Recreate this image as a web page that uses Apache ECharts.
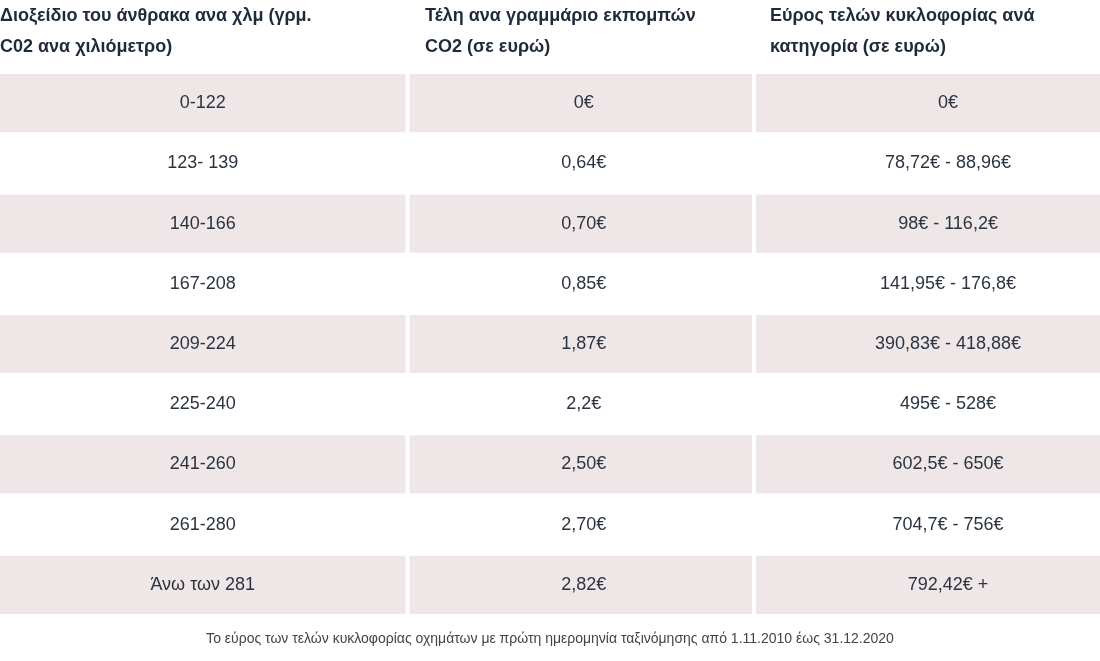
<!DOCTYPE html>
<html><head><meta charset="utf-8">
<script src="https://cdn.jsdelivr.net/npm/echarts@6/dist/echarts.min.js"></script>
<style>html,body{margin:0;padding:0;background:#fff}#c{width:1100px;height:661px}</style>
</head><body><div id="c"></div>
<script>
const headers = [
  "Διοξείδιο του άνθρακα ανα χλμ (γρμ.\nC02 ανα χιλιόμετρο)",
  "Τέλη ανα γραμμάριο εκπομπών\nCO2 (σε ευρώ)",
  "Εύρος τελών κυκλοφορίας ανά\nκατηγορία (σε ευρώ)"
];
const categories = ["0-122","123- 139","140-166","167-208","209-224","225-240","241-260","261-280","Άνω των 281"];
const feePerGram = ["0€","0,64€","0,70€","0,85€","1,87€","2,2€","2,50€","2,70€","2,82€"];
const feeRange = ["0€","78,72€ - 88,96€","98€ - 116,2€","141,95€ - 176,8€","390,83€ - 418,88€","495€ - 528€","602,5€ - 650€","704,7€ - 756€","792,42€ +"];
const footnote = "Το εύρος των τελών κυκλοφορίας οχημάτων με πρώτη ημερομηνία ταξινόμησης από 1.11.2010 έως 31.12.2020";

const cols = [categories, feePerGram, feeRange];
const colFrac = [0, 0.3705, 0.6855, 1];
const textShift = [0, 3, 20];
const data = [];
cols.forEach((c, ci) => c.forEach((v, ri) => data.push([ci, ri, v])));

const FONT = '"Liberation Sans", Arial, sans-serif';
const chart = echarts.init(document.getElementById('c'));
chart.setOption({
  animation: false,
  grid: {left: 0, right: 0, top: 73, bottom: 46},
  xAxis: {type: 'value', min: 0, max: 1, show: false},
  yAxis: {type: 'category', data: categories, inverse: true, show: false},
  graphic: headers.map((h, i) => ({
    type: 'text', left: [0, 425, 770][i], top: 1,
    style: {text: h, font: 'bold 18px ' + FONT, fill: '#1f2b3a', lineHeight: 31}
  })).concat([{
    type: 'text', left: 'center', top: 632,
    style: {text: footnote, font: '14px ' + FONT, fill: '#444'}
  }]),
  series: [{
    type: 'custom',
    data: data,
    renderItem: function (params, api) {
      const ci = api.value(0), ri = api.value(1);
      const cs = params.coordSys;
      const p = api.coord([0, ri]);
      const h = api.size([0, 1])[1];
      const x0 = cs.x + cs.width * colFrac[ci] + (ci > 0 ? 2 : 0);
      const x1 = cs.x + cs.width * colFrac[ci + 1] - (ci < 2 ? 2 : 0);
      const shaded = ri % 2 === 0;
      return {
        type: 'group',
        children: [{
          type: 'rect',
          shape: {x: x0, y: p[1] - h / 2 + 1, width: x1 - x0, height: h - 2},
          style: {fill: shaded ? '#efe7e7' : '#ffffff'}
        }, {
          type: 'text',
          style: {
            text: String(api.value(2)), x: (x0 + x1) / 2 + textShift[ci], y: p[1],
            align: 'center', verticalAlign: 'middle',
            font: '18px ' + FONT, fill: '#2b3440'
          }
        }]
      };
    }
  }]
});
</script></body></html>
